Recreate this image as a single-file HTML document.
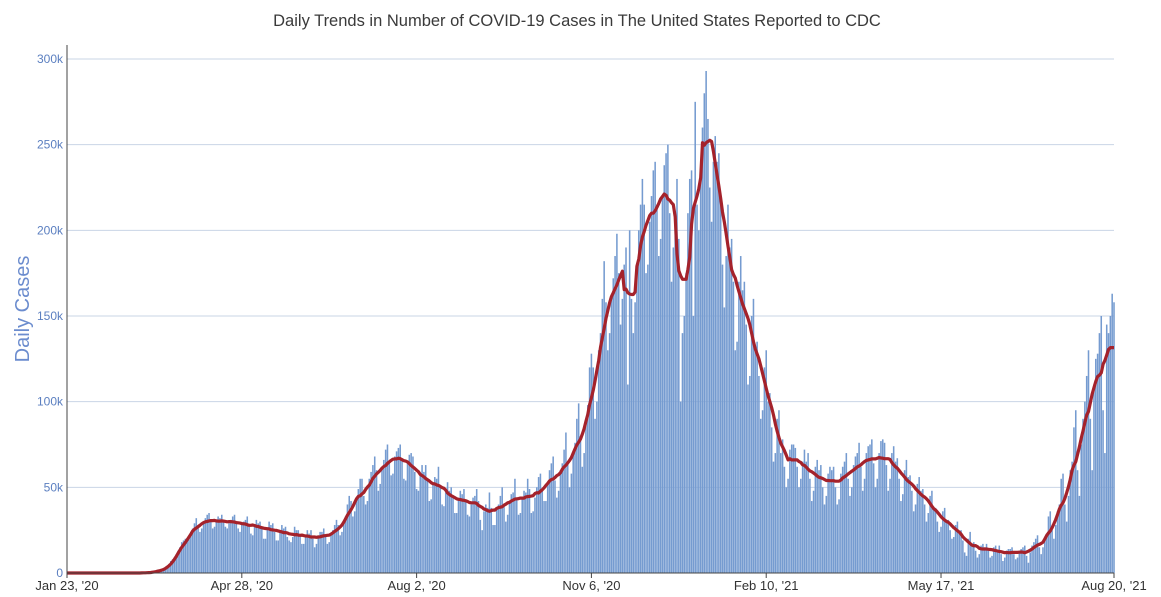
<!DOCTYPE html>
<html><head><meta charset="utf-8">
<style>
html,body{margin:0;padding:0;background:#fff;}
svg{display:block;font-family:"Liberation Sans",sans-serif;}
</style></head>
<body>
<svg id="chart" width="1161" height="597">
<text x="577" y="26" text-anchor="middle" font-size="16.5" fill="#3a3a3a">Daily Trends in Number of COVID-19 Cases in The United States Reported to CDC</text>
<text transform="translate(29,309) rotate(-90)" text-anchor="middle" font-size="20" fill="#6b8cce">Daily Cases</text>
<g id="grid"></g>
<g id="bars"></g>
<path id="avg" fill="none" stroke="#a4222b" stroke-width="3.2" stroke-linejoin="round"></path>
<g id="axes"></g>
</svg>
<script>
const yTicks=[0,50,100,150,200,250,300];
const yTickLabels=["0","50k","100k","150k","200k","250k","300k"];
const xTickDays=[0,96,192,288,384,480,575];
const xTickLabels=["Jan 23, '20","Apr 28, '20","Aug 2, '20","Nov 6, '20","Feb 10, '21","May 17, '21","Aug 20, '21"];
// daily cases (thousands), weeks starting Thursday Jan 23 2020
const dailyCases=[
0,0,0,0,0,0,0, 0,0,0,0,0,0,0, 0,0,0,0,0,0,0, 0,0,0,0,0,0,0, 0,0,0,0,0,0,0, 0,0,0,0,0,0,0,
0.2,0.3,0.3,0.2,0.3,0.4,0.4,
1.2,1.6,1.8,2,2.2,2.6,3,
5,7,8,9,11,13,15,
18,19,20,19,21,24,26,
29,32,28,24,26,30,32,
34,35,30,26,27,30,33,
32,34,30,27,26,29,31,
33,34,29,26,24,28,30,
31,33,28,23,22,28,31,
29,30,27,20,20,26,30,
28,29,24,19,19,25,28,
26,27,21,19,18,21,27,
25,25,22,17,17,22,25,
23,25,20,15,17,22,24,
24,26,22,17,18,23,25,
28,31,28,22,24,30,33,
40,45,42,33,36,43,49,
55,55,45,40,42,55,59,
63,68,60,48,52,62,66,
72,75,64,57,58,68,71,
73,75,67,55,54,64,69,
70,68,59,49,48,57,63,
59,63,54,42,43,52,56,
55,62,50,40,39,47,53,
48,50,44,35,35,43,48,
46,49,42,34,33,40,44,
45,49,42,31,25,36,40,
38,47,38,28,28,38,40,
45,50,40,30,34,42,46,
47,55,44,34,35,43,48,
47,55,49,35,36,44,50,
56,58,48,42,42,52,60,
64,68,54,44,48,60,64,
72,82,64,50,58,70,76,
90,99,80,62,70,90,98,
120,128,120,90,100,130,140,
160,182,158,130,140,162,172,
185,198,175,145,160,180,190,
110,200,160,140,158,180,200,
215,230,215,175,180,205,220,
235,240,215,185,195,220,238,
245,250,210,170,190,210,230,
195,100,140,150,175,210,230,
235,150,275,215,200,235,260,
280,293,265,225,205,240,255,
240,245,215,180,155,185,215,
190,195,170,130,135,170,185,
165,170,145,110,115,150,160,
130,135,115,90,95,120,130,
100,105,85,65,70,90,95,
70,78,62,50,55,72,75,
75,73,62,50,55,65,72,
65,70,55,42,48,62,66,
60,63,50,40,45,58,62,
60,62,50,40,43,58,62,
65,70,55,45,50,63,68,
70,76,62,48,55,70,74,
75,78,64,50,55,70,77,
78,76,63,48,55,70,74,
65,67,55,42,46,60,66,
56,57,48,36,40,52,56,
48,49,40,30,35,45,48,
37,38,30,24,27,36,38,
30,31,25,20,21,28,30,
24,25,19,12,10,20,24,
17,18,13,9,11,16,17,
15,17,13,9,10,15,16,
13,16,11,7,9,13,14,
14,15,11,8,9,13,14,
15,16,10,6,12,16,18,
20,22,15,11,15,20,23,
33,36,25,20,28,36,40,
55,58,40,30,45,60,65,
85,95,60,45,75,90,100,
115,130,90,60,110,125,128,
140,150,95,70,145,140,150,
163,158];

const NS="http://www.w3.org/2000/svg";
const x0=67,x1=1114,yBase=573,yTop=59;
const nDays=575;
const xS=d=>x0+d*(x1-x0)/nDays;
const yS=v=>yBase-v*(yBase-yTop)/300;
function mk(t,a,p){const e=document.createElementNS(NS,t);for(const k in a)e.setAttribute(k,a[k]);p.appendChild(e);return e;}
const grid=document.getElementById('grid'),axes=document.getElementById('axes'),bars=document.getElementById('bars');
yTicks.forEach((v,i)=>{
  if(v>0){const l=mk('line',{x1:x0,x2:x1,y1:yS(v),y2:yS(v),stroke:'#c9d4e6','stroke-width':1},grid);
  
  }
  const t=mk('text',{x:x0-4,y:yS(v)+4,'text-anchor':'end','font-size':12,fill:'#5b7fc0'},axes);
  t.textContent=yTickLabels[i];
  
  
});
const bw=(x1-x0)/nDays*0.85;
dailyCases.forEach((v,d)=>{
  if(v<=0)return;
  const r=mk('rect',{x:xS(d)-bw/2,y:yS(v),width:bw,height:yBase-yS(v),fill:'#759bd0'},bars);
  
  
});
let pts=[];
const N=dailyCases.length;
for(let d=0;d<N;d++){
  let st=Math.max(0,Math.min(d-4,N-7));
  let s=0;for(let k=st;k<st+7;k++){s+=dailyCases[k];}
  pts.push(xS(d).toFixed(1)+','+yS(s/7).toFixed(1));
}
document.getElementById('avg').setAttribute('d','M'+pts.join('L'));
mk('line',{x1:x0,x2:x0,y1:45,y2:yBase,stroke:'#444','stroke-width':1},axes);
mk('line',{x1:x0,x2:x1,y1:yBase,y2:yBase,stroke:'#444','stroke-width':1},axes);
xTickDays.forEach((d,i)=>{
  mk('line',{x1:xS(d),x2:xS(d),y1:yBase,y2:yBase+5,stroke:'#444'},axes);
  const t=mk('text',{x:xS(d),y:590,'text-anchor':'middle','font-size':13,fill:'#333'},axes);
  t.textContent=xTickLabels[i];
  
  
});
</script>
</body></html>
